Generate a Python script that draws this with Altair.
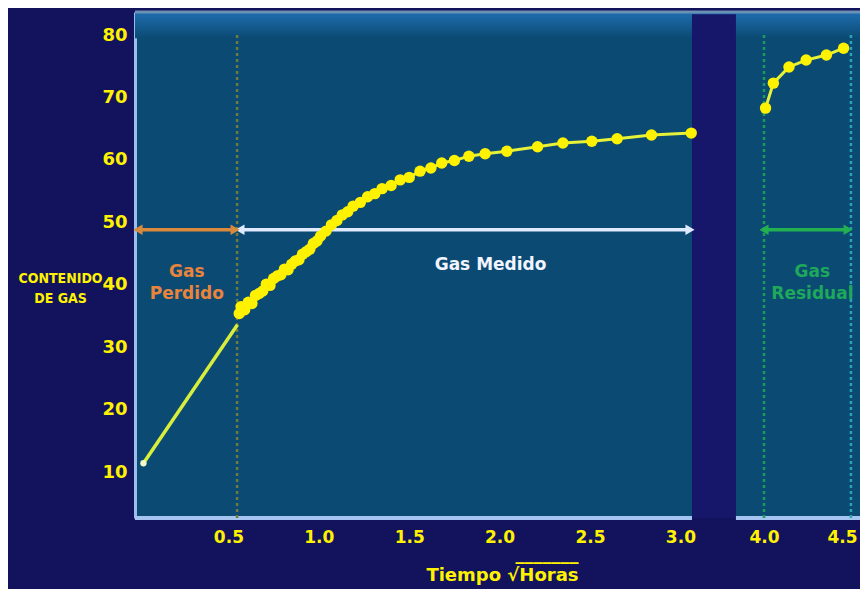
import altair as alt
import pandas as pd

# ---------------- data ----------------
lost_t = [0.03, 0.55]
lost_v = [11.4, 33.6]

measured_t = [0.56, 0.57, 0.59, 0.61, 0.63, 0.65, 0.67, 0.69, 0.71, 0.73, 0.75, 0.77,
              0.79, 0.81, 0.83, 0.85, 0.87, 0.89, 0.91, 0.93, 0.95, 0.97, 0.99, 1.01,
              1.04, 1.07, 1.10, 1.13, 1.16, 1.19, 1.23, 1.27, 1.31, 1.35, 1.40, 1.45,
              1.50, 1.56, 1.62, 1.68, 1.75, 1.83, 1.92, 2.04, 2.21, 2.35, 2.51, 2.65,
              2.84, 3.06]
measured_v = [35.4, 36.5, 36.0, 37.2, 37.0, 38.3, 38.6, 39.0, 40.1, 39.9, 41.0, 41.4,
              41.6, 42.5, 42.4, 43.3, 43.8, 44.0, 44.9, 45.3, 45.7, 46.6, 47.0, 47.8,
              48.6, 49.6, 50.3, 51.2, 51.7, 52.6, 53.2, 54.1, 54.6, 55.4, 55.9, 56.8,
              57.2, 58.2, 58.7, 59.5, 59.9, 60.6, 61.0, 61.4, 62.1, 62.7, 63.0, 63.4,
              64.0, 64.3]

residual_t = [4.01, 4.06, 4.16, 4.27, 4.40, 4.51]
residual_v = [68.3, 72.3, 74.9, 76.0, 76.8, 77.9]

x_tick_labels = [0.5, 1.0, 1.5, 2.0, 2.5, 3.0, 4.0, 4.5]
y_tick_labels = [10, 20, 30, 40, 50, 60, 70, 80]

marker_t = [0.548, 4.0, 4.557]
marker_color = ["#6f7a3c", "#1c9c58", "#2aa3b4"]

arrow_t1 = [0.0, 0.564, 4.0]
arrow_t2 = [0.537, 3.053, 4.539]
arrow_v = [48.8, 48.8, 48.8]
arrow_color = ["#d98a3c", "#dfe9ff", "#22b050"]

label_text = ["Gas\nPerdido", "Gas Medido", "Gas\nResidual"]
label_t = [0.27, 1.95, 4.31]
label_v = [42.0, 43.2, 42.0]
label_color = ["#e8843c", "#f2f5ff", "#1ea85a"]

# axis break: panel 1 ends at 3.064, panel 2 starts at 3.82
T_MIN, T_BREAK_LO, T_BREAK_HI = -0.0166, 3.064, 3.82
Y_MIN, Y_MAX = 2.63, 83.7

B0, K = 3.4624, 0.863   # position of t=4.0 and relative scale of the second panel
T_MAX = 4.0 + (3.9933 - B0) / K


def brk(t):
    return t if t <= 3.5 else B0 + (t - 4.0) * K


NAVY = "#12135c"
PANEL = "#0b4a73"
YELLOW = "#fff200"

xs = alt.Scale(domain=[brk(T_MIN), brk(T_MAX)], nice=False, zero=False)
ys = alt.Scale(domain=[Y_MIN, Y_MAX], nice=False, zero=False)

FONT = "DejaVu Sans"

xaxis = alt.Axis(
    values=[brk(v) for v in x_tick_labels],
    labelExpr=f"datum.value > 3.3 ? format(4.0 + (datum.value - {B0}) / {K}, '.1f') : format(datum.value, '.1f')",
    domain=False, ticks=False, grid=False,
    labelColor=YELLOW, labelFont=FONT, labelFontWeight="bold", labelFontSize=17,
    labelPadding=11,
    title=["_" * 7, "Tiempo \u221aHoras"],
    titleColor=YELLOW, titleFont=FONT, titleFontWeight="bold", titleFontSize=18,
    titleAlign="right", titleAnchor="end", titleX=443, titleY=41, titleLineHeight=21,
    titleBaseline="alphabetic",
)
yaxis = alt.Axis(
    values=y_tick_labels, format="d",
    domain=True, domainColor="#9cbcec", domainWidth=3,
    ticks=False, grid=False,
    labelColor=YELLOW, labelFont=FONT, labelFontWeight="bold", labelFontSize=18,
    labelPadding=8,
    title=["CONTENIDO", "DE GAS"], titleAngle=0, titleAlign="center",
    titleBaseline="top", titleX=-75, titleY=259, titleLineHeight=20,
    titleColor=YELLOW, titleFont="Liberation Sans Narrow, DejaVu Sans Condensed, Roboto Condensed, Liberation Sans",
    titleFontWeight="bold", titleFontSize=14,
)

X = lambda f="xd": alt.X(f"{f}:Q", scale=xs, axis=xaxis)
Y = lambda f="v": alt.Y(f"{f}:Q", scale=ys, axis=yaxis)

# top gradient band of the panels
band = pd.DataFrame({"x1": [brk(T_MIN)], "x2": [brk(T_MAX)], "y1": [79.5], "y2": [Y_MAX]})
band_layer = alt.Chart(band).mark_rect(
    color=alt.Gradient(gradient="linear", x1=0, x2=0, y1=1, y2=0,
                       stops=[alt.GradientStop(offset=0, color=PANEL),
                              alt.GradientStop(offset=1, color="#1f6eb0")])
).encode(x=X("x1"), x2="x2:Q", y=Y("y1"), y2="y2:Q")

top_line = alt.Chart(band).mark_rule(color="#6a90b4", strokeWidth=3).encode(
    x=X("x1"), x2="x2:Q", y=Y("y2"))

gap = pd.DataFrame({"x1": [brk(T_BREAK_LO)], "x2": [brk(T_BREAK_HI)], "y1": [Y_MIN], "y2": [Y_MAX - 0.35]})
gap_layer = alt.Chart(gap).mark_rect(color="#16176a").encode(
    x=X("x1"), x2="x2:Q", y=Y("y1"), y2="y2:Q")

# bottom axis line in two pieces
bottom = pd.DataFrame({"x1": [brk(T_MIN), brk(T_BREAK_HI)], "x2": [brk(T_BREAK_LO), brk(T_MAX)],
                       "y": [Y_MIN, Y_MIN]})
bottom_layer = alt.Chart(bottom).mark_rule(color="#a6c4f0", strokeWidth=4).encode(
    x=X("x1"), x2="x2:Q", y=Y("y"))

markers = pd.DataFrame({"xd": [brk(t) for t in marker_t], "y1": [80, 80, 80],
                        "y2": [Y_MIN] * 3, "c": marker_color})
marker_layer = alt.Chart(markers).mark_rule(strokeWidth=2.5, strokeDash=[3, 3]).encode(
    x=X(), y=Y("y1"), y2="y2:Q", color=alt.Color("c:N", scale=None))

arrows = pd.DataFrame({"a": [brk(t) for t in arrow_t1], "b": [brk(t) for t in arrow_t2],
                       "v": arrow_v, "c": arrow_color})
arrow_line = alt.Chart(arrows).mark_rule(strokeWidth=3.5).encode(
    x=X("a"), x2="b:Q", y=Y(), color=alt.Color("c:N", scale=None))
arrow_left = alt.Chart(arrows).mark_point(shape="triangle-left", filled=True, size=110, opacity=1).encode(
    x=X("a"), y=Y(), color=alt.Color("c:N", scale=None))
arrow_right = alt.Chart(arrows).mark_point(shape="triangle-right", filled=True, size=110, opacity=1).encode(
    x=X("b"), y=Y(), color=alt.Color("c:N", scale=None))

labels = pd.DataFrame({"xd": [brk(t) for t in label_t], "v": label_v, "txt": label_text, "c": label_color})
label_layer = alt.Chart(labels).mark_text(
    font=FONT, fontWeight="bold", fontSize=17, lineBreak="\n", lineHeight=22,
    align="center", baseline="middle").encode(
    x=X(), y=Y(), text="txt:N", color=alt.Color("c:N", scale=None))

lost = pd.DataFrame({"xd": [brk(t) for t in lost_t], "v": lost_v})
lost_layer = alt.Chart(lost).mark_line(color="#d8ee3c", strokeWidth=3.5).encode(x=X(), y=Y())
lost_start = alt.Chart(lost.iloc[:1]).mark_circle(color="#f4f8c8", size=40, opacity=1).encode(x=X(), y=Y())

meas = pd.DataFrame({"xd": [brk(t) for t in measured_t], "v": measured_v})
meas_line = alt.Chart(meas).mark_line(color="#e6f23a", strokeWidth=3).encode(x=X(), y=Y())
meas_pts = alt.Chart(meas).mark_point(shape="circle", filled=True, size=130, opacity=1, color=YELLOW).encode(
    x=X(), y=Y())

res = pd.DataFrame({"xd": [brk(t) for t in residual_t], "v": residual_v})
res_line = alt.Chart(res).mark_line(color="#e6f23a", strokeWidth=3).encode(x=X(), y=Y())
res_pts = alt.Chart(res).mark_point(shape="circle", filled=True, size=130, opacity=1, color=YELLOW).encode(x=X(), y=Y())

chart = alt.layer(
    band_layer, gap_layer, top_line, bottom_layer, marker_layer,
    arrow_line, arrow_left, arrow_right, label_layer,
    lost_layer, lost_start, meas_line, res_line, meas_pts, res_pts,
).properties(
    width=725, height=506,
    padding={"left": 127, "top": 4, "right": 0, "bottom": 71},
    autosize=alt.AutoSizeParams(type="none"),
    background=NAVY,
).configure_view(fill=PANEL, stroke=None)

chart.save("out.html", embed_options={"renderer": "svg", "actions": False})
